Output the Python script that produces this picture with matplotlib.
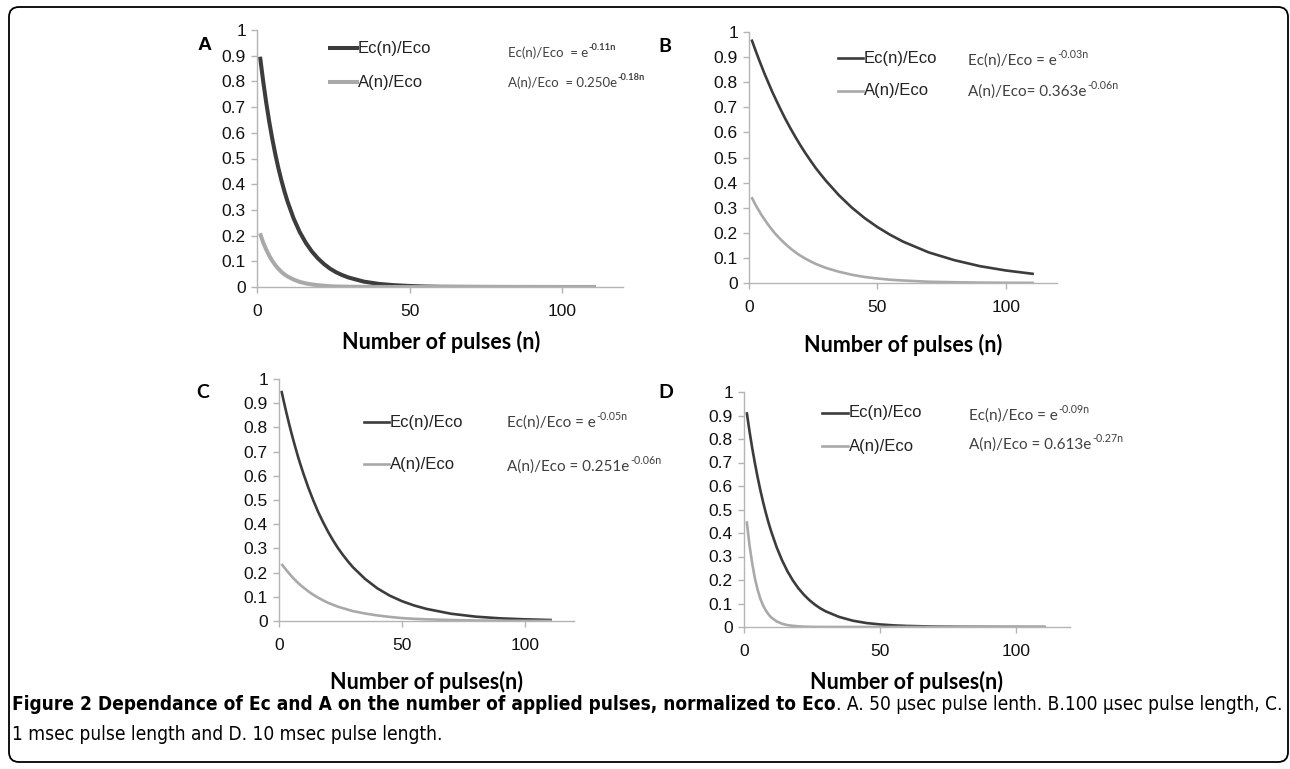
import matplotlib
matplotlib.use("Agg")
import matplotlib.pyplot as plt
from matplotlib import font_manager
from matplotlib.font_manager import FontProperties
from matplotlib.patches import FancyBboxPatch
from matplotlib.transforms import IdentityTransform

W, H = 1290, 769

# values at these pulse numbers
n_pts = [1, 2, 3, 4, 5, 6, 7, 8, 9, 10, 12, 14, 16, 18, 20, 22, 24, 26, 28, 30,
         35, 40, 45, 50, 55, 60, 70, 80, 90, 100, 111]

a_ec = [0.896, 0.803, 0.719, 0.644, 0.577, 0.517, 0.463, 0.415, 0.372, 0.333, 0.267, 0.214,
        0.172, 0.138, 0.111, 0.089, 0.071, 0.057, 0.046, 0.037, 0.021, 0.012, 0.007, 0.004,
        0.002, 0.001, 0.0005, 0.0002, 0.0001, 0, 0]
a_a = [0.209, 0.174, 0.146, 0.122, 0.102, 0.085, 0.071, 0.059, 0.049, 0.041, 0.029, 0.020,
       0.014, 0.010, 0.007, 0.005, 0.003, 0.002, 0.0016, 0.0011, 0.0005, 0.0002, 0, 0,
       0, 0, 0, 0, 0, 0, 0]
b_ec = [0.970, 0.942, 0.914, 0.887, 0.861, 0.835, 0.811, 0.787, 0.763, 0.741, 0.698, 0.657,
        0.619, 0.583, 0.549, 0.517, 0.487, 0.458, 0.432, 0.407, 0.350, 0.301, 0.259, 0.223,
        0.192, 0.165, 0.122, 0.091, 0.067, 0.050, 0.036]
b_a = [0.342, 0.322, 0.303, 0.286, 0.269, 0.254, 0.239, 0.225, 0.212, 0.199, 0.177, 0.157,
       0.139, 0.123, 0.109, 0.097, 0.086, 0.076, 0.068, 0.060, 0.045, 0.033, 0.024, 0.018,
       0.013, 0.010, 0.005, 0.003, 0.0016, 0.0009, 0.0005]
c_ec = [0.951, 0.905, 0.861, 0.819, 0.779, 0.741, 0.705, 0.670, 0.638, 0.607, 0.549, 0.497,
        0.449, 0.407, 0.368, 0.333, 0.301, 0.273, 0.247, 0.223, 0.174, 0.135, 0.105, 0.082,
        0.064, 0.050, 0.030, 0.018, 0.011, 0.007, 0.004]
c_a = [0.236, 0.223, 0.210, 0.198, 0.186, 0.175, 0.165, 0.155, 0.146, 0.138, 0.122, 0.108,
       0.096, 0.085, 0.075, 0.067, 0.059, 0.053, 0.047, 0.041, 0.031, 0.023, 0.017, 0.012,
       0.009, 0.007, 0.004, 0.002, 0.0011, 0.0006, 0.0003]
d_ec = [0.914, 0.835, 0.763, 0.698, 0.638, 0.583, 0.533, 0.487, 0.445, 0.407, 0.340, 0.284,
        0.237, 0.198, 0.165, 0.138, 0.115, 0.096, 0.080, 0.067, 0.043, 0.027, 0.017, 0.011,
        0.007, 0.0045, 0.0018, 0.0007, 0.0003, 0.0001, 0]
d_a = [0.450, 0.350, 0.272, 0.208, 0.159, 0.121, 0.092, 0.071, 0.054, 0.041, 0.024, 0.014,
       0.008, 0.005, 0.003, 0.0016, 0.0009, 0.0005, 0.0003, 0.0002, 0, 0, 0, 0,
       0, 0, 0, 0, 0, 0, 0]

panel_letters = ["A", "B", "C", "D"]
xlabels = ["Number of pulses (n)", "Number of pulses (n)",
           "Number of pulses(n)", "Number of pulses(n)"]
ec_formulas = [("Ec(n)/Eco  = e", "-0.11n"), ("Ec(n)/Eco = e", "-0.03n"),
               ("Ec(n)/Eco = e", "-0.05n"), ("Ec(n)/Eco = e", "-0.09n")]
a_formulas = [("A(n)/Eco  = 0.250e", "-0.18n"), ("A(n)/Eco= 0.363e", "-0.06n"),
              ("A(n)/Eco = 0.251e", "-0.06n"), ("A(n)/Eco = 0.613e", "-0.27n")]
yticks = [0, 0.1, 0.2, 0.3, 0.4, 0.5, 0.6, 0.7, 0.8, 0.9, 1]
ytick_labels = ["0", "0.1", "0.2", "0.3", "0.4", "0.5", "0.6", "0.7", "0.8", "0.9", "1"]
xticks = [0, 50, 100]
caption_bold = "Figure 2 Dependance of Ec and A on the number of applied pulses, normalized to Eco"
caption_rest = ". A. 50 \u03bcsec pulse lenth. B.100 \u03bcsec pulse length, C."
caption_line2 = "1 msec pulse length and D. 10 msec pulse length."


def caption_fonts():
    # look for a narrow / condensed face, else use Roboto
    reg, bold = None, None
    for f in font_manager.fontManager.ttflist:
        name = f.fname.lower()
        if ("narrow" in name or "condensed" in name) and f.style == "normal":
            if f.weight in (400, "normal", "regular") and reg is None:
                reg = f.fname
            if f.weight in (700, "bold") and bold is None:
                bold = f.fname
    if reg and bold:
        return FontProperties(fname=reg), FontProperties(fname=bold)
    return FontProperties(family="Roboto"), FontProperties(family="Roboto", weight="bold")


cap_reg, cap_bold = caption_fonts()
tick_font = "Liberation Sans"
lab_font = "Lato"

DARK = "#3c3c3c"
LIGHT = "#a9a9a9"
SPINE = "#b4b4b4"

fig = plt.figure(figsize=(W / 100, H / 100), dpi=100)
fig.patch.set_facecolor("white")


def fx(px):
    return px / W


def fy(py):
    return 1 - py / H


# axes boxes in pixels: left, right, top(y=1), bottom(y=0)
boxes = [(257, 623, 30, 287), (749, 1057, 32, 283), (279, 574, 379, 621), (744, 1070, 392, 627)]
series = [(a_ec, a_a), (b_ec, b_a), (c_ec, c_a), (d_ec, d_a)]
widths = [2.9, 1.9, 1.9, 1.9]
letter_pos = [(205, 45), (665, 46), (203, 392), (666, 392)]
xlabel_pos = [(441, 342), (903, 345), (427, 682), (907, 682)]
# legend: line x0, x1, y for Ec, y for A
legend_pos = [(330, 357, 48, 82), (838, 863, 58, 91), (364, 389, 422, 464), (822, 848, 413, 446)]
formula_pos = [(508, 53, 83), (968, 61, 92), (507, 423, 467), (969, 416, 445)]
formula_size = [9.5, 11, 11, 11]

renderer = fig.canvas.get_renderer()


def sup_text(x, y, base, sup, size, bold_sup=False):
    t = fig.text(fx(x), fy(y), base, fontsize=size, family=lab_font, color="#404040",
                 ha="left", va="center")
    bb = t.get_window_extent(renderer)
    fig.text(bb.x1 / W + 0.0005, fy(y - size * 0.55), sup, fontsize=size * 0.7,
             family=lab_font, color="#404040", ha="left", va="center",
             fontweight="bold" if bold_sup else "normal")


for i in range(4):
    l, r, t, b = boxes[i]
    ax = fig.add_axes([fx(l), fy(b), fx(r - l), (b - t) / H])
    ec, aa = series[i]
    ax.plot(n_pts, ec, color=DARK, lw=widths[i], solid_capstyle="butt")
    ax.plot(n_pts, aa, color=LIGHT, lw=widths[i], solid_capstyle="butt")
    ax.set_xlim(0, 120)
    ax.set_ylim(0, 1)
    ax.set_yticks(yticks)
    ax.set_yticklabels(ytick_labels)
    ax.set_xticks(xticks)
    ax.set_xticklabels([str(v) for v in xticks])
    for s in ["top", "right"]:
        ax.spines[s].set_visible(False)
    for s in ["left", "bottom"]:
        ax.spines[s].set_color(SPINE)
        ax.spines[s].set_linewidth(1.0)
    ax.tick_params(axis="y", length=4, width=1, color=SPINE, pad=4, labelsize=12.5)
    ax.tick_params(axis="x", length=4, width=1, color=SPINE, pad=8, labelsize=12.5)
    for lab in ax.get_xticklabels() + ax.get_yticklabels():
        lab.set_family(tick_font)
        lab.set_color("#111111")
    ax.patch.set_alpha(0)

    lx, ly = letter_pos[i]
    fig.text(fx(lx), fy(ly), panel_letters[i], fontsize=14, fontweight="bold",
             family=tick_font if i == 0 else lab_font, ha="center", va="center")
    xx, xy = xlabel_pos[i]
    fig.text(fx(xx), fy(xy), xlabels[i], fontsize=15.5, fontweight="bold", family=lab_font,
             ha="center", va="center")

    x0, x1, y_ec, y_a = legend_pos[i]
    fig.add_artist(plt.Line2D([fx(x0), fx(x1)], [fy(y_ec), fy(y_ec)], color=DARK,
                              lw=widths[i], transform=fig.transFigure))
    fig.add_artist(plt.Line2D([fx(x0), fx(x1)], [fy(y_a), fy(y_a)], color=LIGHT,
                              lw=widths[i], transform=fig.transFigure))
    fig.text(fx(x1 + 1), fy(y_ec), "Ec(n)/Eco", fontsize=12, family=tick_font,
             color="#222222", ha="left", va="center")
    fig.text(fx(x1 + 1), fy(y_a), "A(n)/Eco", fontsize=12, family=tick_font,
             color="#222222", ha="left", va="center")

    fxp, fy1, fy2 = formula_pos[i]
    sup_text(fxp, fy1, ec_formulas[i][0], ec_formulas[i][1], formula_size[i], bold_sup=(i == 0))
    sup_text(fxp, fy2, a_formulas[i][0], a_formulas[i][1], formula_size[i], bold_sup=(i == 0))

# caption, sized so that the first line spans the frame width
cap_size = 12
cap_bold.set_size(cap_size)
cap_reg.set_size(cap_size)
tb = fig.text(fx(12), fy(705), caption_bold, fontproperties=cap_bold.copy(),
              ha="left", va="center")
tr = fig.text(0, fy(705), caption_rest, fontproperties=cap_reg.copy(),
              ha="left", va="center")
for _ in range(3):
    bb1 = tb.get_window_extent(renderer)
    tr.set_x(bb1.x1 / W)
    bb2 = tr.get_window_extent(renderer)
    cap_size = cap_size * (1280 - 12) / (bb2.x1 - bb1.x0)
    tb.set_fontsize(cap_size)
    tr.set_fontsize(cap_size)
bb1 = tb.get_window_extent(renderer)
tr.set_x(bb1.x1 / W)
l2 = cap_reg.copy()
l2.set_size(cap_size)
fig.text(fx(12), fy(735), caption_line2, fontproperties=l2, ha="left", va="center")

# rounded frame around the whole figure
frame = FancyBboxPatch((9, H - 762), 1288 - 9, 762 - 7,
                       boxstyle="round,pad=0,rounding_size=10",
                       transform=IdentityTransform(), fill=False, ec="black", lw=1.3)
fig.add_artist(frame)

fig.savefig("out.png", dpi=100)
